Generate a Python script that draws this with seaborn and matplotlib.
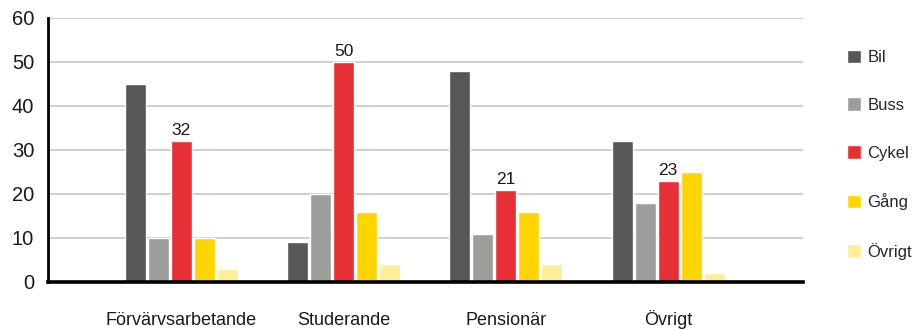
import matplotlib
matplotlib.use("Agg")
import matplotlib.pyplot as plt
import seaborn as sns
import pandas as pd

# Travel mode shares (%) per occupation group
groups = ["Förvärvsarbetande", "Studerande", "Pensionär", "Övrigt"]
modes = ["Bil", "Buss", "Cykel", "Gång", "Övrigt"]
bil = [45, 9, 48, 32]
buss = [10, 20, 11, 18]
cykel = [32, 50, 21, 23]
gang = [10, 16, 16, 25]
ovrigt = [3, 4, 4, 2]
yticks = [0, 10, 20, 30, 40, 50, 60]

palette = ["#575756", "#9d9d9c", "#e63036", "#ffd500", "#ffed99"]

rows = []
for mode, vals in zip(modes, [bil, buss, cykel, gang, ovrigt]):
    for g, v in zip(groups, vals):
        rows.append({"Grupp": g, "Färdsätt": mode, "Andel": v})
df = pd.DataFrame(rows)

sns.set_theme(style="white")
plt.rcParams["font.family"] = ["Liberation Sans", "DejaVu Sans"]

fig = plt.figure(figsize=(9.16, 3.29), dpi=100)
ax = fig.add_axes([0.0524, 0.1429, 0.8242, 0.8024])

sns.barplot(data=df, x="Grupp", y="Andel", hue="Färdsätt", order=groups,
            hue_order=modes, palette=palette, width=0.71, gap=0.09,
            saturation=1, ax=ax, legend=True, zorder=3)

ax.set_ylim(0, 60)
ax.set_xlim(-0.82, 3.83)
ax.set_yticks(yticks)
ax.yaxis.grid(True, color="#c8c8c8", linewidth=1.2, zorder=0)
ax.set_axisbelow(True)
ax.set_xlabel("")
ax.set_ylabel("")

for side in ["top", "right"]:
    ax.spines[side].set_visible(False)
ax.spines["left"].set_color("black")
ax.spines["left"].set_linewidth(2)
ax.spines["bottom"].set_color("black")
ax.spines["bottom"].set_linewidth(2.6)
ax.spines["bottom"].set_zorder(5)

ax.tick_params(axis="y", length=0, labelsize=14.5, pad=10, colors="#1a1a1a")
ax.tick_params(axis="x", length=0, labelsize=13, pad=31, colors="#1a1a1a")
for lbl in ax.get_xticklabels():
    lbl.set_verticalalignment("baseline")

# Value labels on the Cykel bars
cykel_bars = ax.containers[modes.index("Cykel")]
ax.bar_label(cykel_bars, labels=[str(v) for v in cykel], padding=2,
             fontsize=12.5, color="#1a1a1a")

handles, labels = ax.get_legend_handles_labels()
ax.legend(handles, labels, loc="upper left", bbox_to_anchor=(1.054, 0.893),
          frameon=False, fontsize=12, handlelength=0.85, handleheight=0.85,
          handletextpad=0.36, labelspacing=1.95, borderaxespad=0, borderpad=0.2)

fig.savefig("out.png", dpi=100)
